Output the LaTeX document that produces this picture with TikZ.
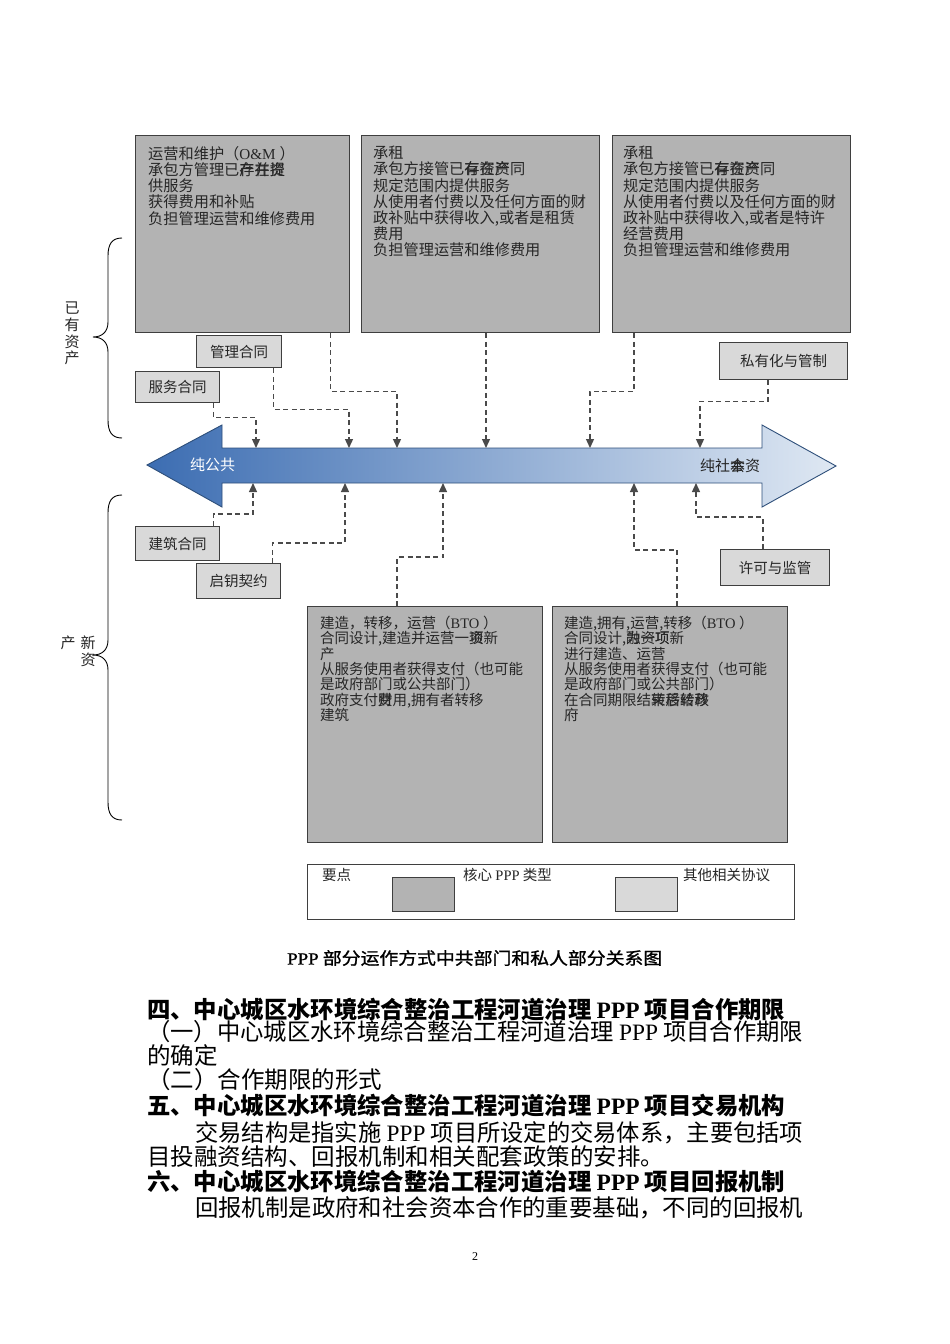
\documentclass[tikz,border=0pt]{standalone}
\usepackage{fontspec}
\usepackage{graphicx}
\setmainfont{Noto Sans CJK SC}
\newfontfamily\lat{Liberation Serif}
\newfontfamily\capf[FakeBold=1.2]{Noto Sans CJK SC}
\newfontfamily\capl[FakeBold=1.2]{Liberation Serif}
\usetikzlibrary{arrows.meta,calc}
\definecolor{corefill}{HTML}{B3B3B3}
\definecolor{otherfill}{HTML}{D9D9D9}
\definecolor{bordc}{HTML}{3F3F3F}
\definecolor{txtc}{HTML}{262626}
\definecolor{connc}{HTML}{4A4A4A}
\definecolor{arrL}{HTML}{3C6DB2}
\definecolor{arrM}{HTML}{8FB1DB}
\definecolor{arrR}{HTML}{DFE8F3}
\definecolor{arrB}{HTML}{2E4F7A}
\newcommand\ovl[2]{\rlap{#1}#2}
\newcommand\fitw[2]{\resizebox{#1}{\height}{#2}}
\begin{document}
\begin{tikzpicture}[x=1pt,y=-1pt,
  font=\fontsize{14.5}{16.2}\selectfont,
  core/.style={draw=bordc, line width=1.3pt, fill=corefill, anchor=north west, inner sep=0pt},
  other/.style={draw=bordc, line width=1.3pt, fill=otherfill, anchor=north west, inner sep=0pt, text=txtc},
  btext/.style={anchor=north west, align=left, inner sep=0pt, text=txtc, font=\fontsize{15.2}{16.2}\selectfont},
  bodyline/.style={anchor=west, inner sep=0pt, text=black, font=\fontsize{23.5}{24}\selectfont},
  conn/.style={draw=connc, line width=1.3pt, dash pattern=on 5pt off 3.5pt, -{Triangle[length=9pt,width=8pt]}},
  bracec/.style={draw=black, line width=0.9pt},
  sidelab/.style={inner sep=0pt, text=txtc, font=\fontsize{15}{15}\selectfont}
]
\useasboundingbox (0,0) rectangle (950,1344);
\fill[white] (0,0) rectangle (950,1344);

% ---------- core boxes (existing assets)
\node[core, minimum width=214pt, minimum height=197pt] (A) at (135,135) {};
\node[core, minimum width=238pt, minimum height=197pt] (B) at (361,135) {};
\node[core, minimum width=238pt, minimum height=197pt] (C) at (612,135) {};
\node[btext] (At) at (148,146) {运营和维护（{\lat O\&M }）\\承包方管理已\ovl{存在资}{产并提}\\供服务\\获得费用和补贴\\负担管理运营和维修费用};
\node[btext] (Bt) at (373,146) {承租\\承包方接管已\ovl{存在资}{有资产}同\\规定范围内提供服务\\从使用者付费以及任何方面的财\\政补贴中获得收入,或者是租赁\\费用\\负担管理运营和维修费用};
\node[btext] (Ct) at (623,146) {承租\\承包方接管已\ovl{存在资}{有资产}同\\规定范围内提供服务\\从使用者付费以及任何方面的财\\政补贴中获得收入,或者是特许\\经营费用\\负担管理运营和维修费用};

% ---------- other boxes (top)
\node[other, minimum width=85pt, minimum height=32pt] (mgmt) at (196,335) {管理合同};
\node[other, minimum width=84pt, minimum height=31pt] (svc) at (135,371) {服务合同};
\node[other, minimum width=128pt, minimum height=37pt] (priv) at (719,342) {私有化与管制};

% ---------- the big double arrow
\path[left color=arrL, middle color=arrM, right color=arrR, draw=arrB, line width=0.9pt]
  (147,465) -- (222,425) -- (222,448) -- (762,448) -- (762,425) -- (836,466)
  -- (762,507) -- (762,483) -- (222,483) -- (222,507) -- cycle;
\node[inner sep=0pt, anchor=west, text=white, font=\fontsize{15}{15}\selectfont] (pub) at (190,465) {纯公共};
\node[inner sep=0pt, anchor=west, text=txtc, font=\fontsize{15}{15}\selectfont] (prv) at (700,466) {纯社\ovl{会}{本}资};

\coordinate (t1) at (256,448);
\coordinate (t2) at (349,448);
\coordinate (t3) at (397,448);
\coordinate (t4) at (486,448);
\coordinate (t5) at (590,448);
\coordinate (t6) at (700,448);
\coordinate (s1) at (253,483);
\coordinate (s2) at (345,483);
\coordinate (s3) at (443,483);
\coordinate (s4) at (634,483);
\coordinate (s5) at (696,483);

% ---------- other boxes (bottom)
\node[other, minimum width=84pt, minimum height=34pt] (bld) at (135,526) {建筑合同};
\node[other, minimum width=84pt, minimum height=35pt] (key) at (196,563) {启钥契约};
\node[other, minimum width=109pt, minimum height=36pt] (lic) at (720,549) {许可与监管};

% ---------- core boxes (new assets)
\node[core, minimum width=235pt, minimum height=236pt] (D) at (307,606) {};
\node[core, minimum width=235pt, minimum height=236pt] (E) at (552,606) {};
\node[btext, font=\fontsize{14.5}{15.3}\selectfont] (Dt) at (320,616) {建造，转移，运营（{\lat BTO }）\\合同设计,建造并运营一\ovl{项}{资}新\\产\\从服务使用者获得支付（也可能\\是政府部门或公共部门）\\政府支付\ovl{费}{财}用,拥有者转移\\建筑};
\node[btext, font=\fontsize{14.5}{15.3}\selectfont] (Et) at (564,616) {建造,拥有,运营,转移（{\lat BTO }）\\合同设计,\ovl{融资项}{为一项}新\\进行建造、运营\\从服务使用者获得支付（也可能\\是政府部门或公共部门）\\在合同期限结\ovl{束后转移}{转移给政}\\府};

% ---------- connectors above the arrow
\draw[conn] ([xshift=-7pt]svc.south east) -- ++(0,14) -| (t1);
\draw[conn] ([xshift=-9pt]mgmt.south east) -- ++(0,41) -| (t2);
\draw[conn] ([xshift=-20pt]A.south east) -- ++(0,58) -| (t3);
\draw[conn] (B.south -| t4) -- (t4);
\draw[conn] ([xshift=22pt]C.south west) -- ++(0,58) -| (t5);
\draw[conn] ([xshift=49pt]priv.south west) -- ++(0,21) -| (t6);

% ---------- connectors below the arrow
\draw[conn] ([xshift=-7pt]bld.north east) -- ++(0,-12) -| (s1);
\draw[conn] ([xshift=-9pt]key.north east) -- ++(0,-20) -| (s2);
\draw[conn] ([xshift=90pt]D.north west) -- ++(0,-49) -| (s3);
\draw[conn] ([xshift=125pt]E.north west) -- ++(0,-56) -| (s4);
\draw[conn] ([xshift=43pt]lic.north west) -- ++(0,-32) -| (s5);

% ---------- braces
\draw[bracec] (122,238) .. controls (112,238) and (108,244) .. (108,256) -- (108,322)
  .. controls (108,332) and (102,337) .. (93,337)
  .. controls (102,337) and (108,342) .. (108,352) -- (108,420)
  .. controls (108,432) and (112,438) .. (122,438);
\draw[bracec] (122,495) .. controls (112,495) and (108,501) .. (108,513) -- (108,640)
  .. controls (108,650) and (102,655) .. (93,655)
  .. controls (102,655) and (108,660) .. (108,670) -- (108,802)
  .. controls (108,814) and (112,820) .. (122,820);
\node[sidelab] (e1) at (72,308) {已};
\node[sidelab] (e2) at (72,325) {有};
\node[sidelab] (e3) at (72,342) {资};
\node[sidelab] (e4) at (72,358) {产};
\node[sidelab] (n1) at (88,643) {新};
\node[sidelab] (n2) at (88,660) {资};
\node[sidelab] (n3) at (68,643) {产};

% ---------- legend
\node[draw=bordc, line width=1.1pt, fill=white, anchor=north west, minimum width=487pt, minimum height=55pt, inner sep=0pt] (leg) at (307,864) {};
\node[inner sep=0pt, anchor=west, text=txtc] (legk) at (322,875) {要点};
\node[core, minimum width=62pt, minimum height=34pt] (sw1) at (392,877) {};
\node[inner sep=0pt, anchor=west, text=txtc] (l1) at (463,875) {核心 {\lat PPP} 类型};
\node[other, minimum width=62pt, minimum height=34pt] (sw2) at (615,877) {};
\node[inner sep=0pt, anchor=west, text=txtc] (l2) at (683,875) {其他相关协议};

% ---------- caption
\node[inner sep=0pt, anchor=west] (cap) at (287,958) {\fitw{375pt}{\fontsize{17}{17}\capf{\capl PPP} 部分运作方式中共部门和私人部分关系图}};

% ---------- body text
\node[bodyline] (p1) at (147,1010) {\fitw{638pt}{\bfseries 四、中心城区水环境综合整治工程河道治理 {\lat PPP} 项目合作期限}};
\node[bodyline] (p2) at (147,1032) {\fitw{656pt}{（一）中心城区水环境综合整治工程河道治理 {\lat PPP} 项目合作期限}};
\node[bodyline] (p3) at (147,1056) {的确定};
\node[bodyline] (p4) at (147,1080) {（二）合作期限的形式};
\node[bodyline] (p5) at (147,1106) {\fitw{638pt}{\bfseries 五、中心城区水环境综合整治工程河道治理 {\lat PPP} 项目交易机构}};
\node[bodyline] (p6) at (195,1133) {\fitw{608pt}{交易结构是指实施 {\lat PPP} 项目所设定的交易体系，主要包括项}};
\node[bodyline] (p7) at (147,1157) {目投融资结构、回报机制和相关配套政策的安排。};
\node[bodyline] (p8) at (147,1182) {\fitw{638pt}{\bfseries 六、中心城区水环境综合整治工程河道治理 {\lat PPP} 项目回报机制}};
\node[bodyline] (p9) at (195,1208) {\fitw{608pt}{回报机制是政府和社会资本合作的重要基础，不同的回报机}};
\node[inner sep=0pt, font=\lat\fontsize{12}{12}\selectfont] (pg) at (475,1257) {2};
\end{tikzpicture}
\end{document}
